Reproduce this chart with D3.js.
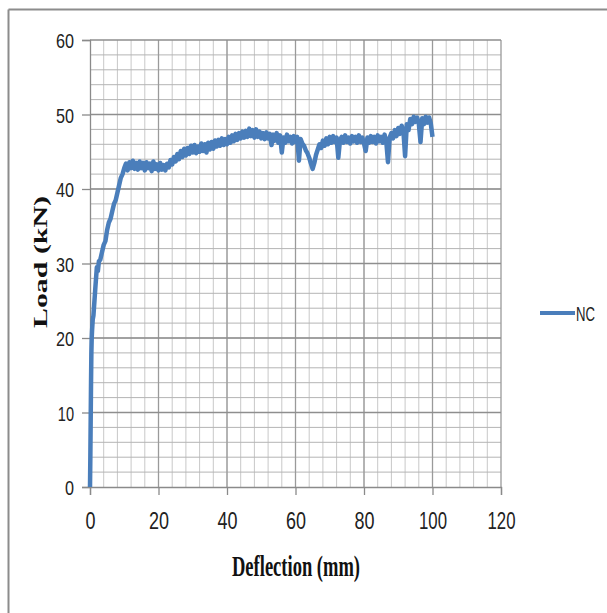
<!doctype html>
<html lang="en">
<head>
  <meta charset="utf-8">
  <script src="https://d3js.org/d3.v7.min.js"></script>
  <style>
    body { margin: 0; background: #fff; }
  </style>
</head>
<body>
  <script>
    var width = 607,
        height = 613;

    // NC beam: load vs deflection
    var deflection = [0, 0.1, 0.2, 0.3, 0.4, 0.5, 0.6, 0.8, 1.0, 1.3, 1.6, 2.0, 2.3, 2.6, 3.0, 3.5,
      4.0, 4.5, 5.0, 5.5, 6.0, 6.5, 7.0, 7.5, 8.0, 8.5, 9.0, 9.5,
      10, 10.5, 11, 11.5, 12, 12.5, 13, 13.5, 14, 14.5, 15,
      15.5, 16, 16.5, 17, 17.5, 18, 18.5, 19, 19.5, 20,
      20.5, 21, 21.5, 22, 22.5, 23, 23.5, 24, 24.5, 25,
      25.5, 26, 26.5, 27, 27.5, 28, 28.5, 29, 29.5, 30,
      30.5, 31, 31.5, 32, 32.5, 33, 33.5, 34, 34.5, 35,
      35.5, 36, 36.5, 37, 37.5, 38, 38.5, 39, 39.5, 40,
      40.5, 41, 41.5, 42, 42.5, 43, 43.5, 44, 44.5, 45,
      45.5, 46, 46.5, 47, 47.5, 48, 48.5, 49, 49.5, 50,
      50.5, 51, 51.5, 52, 52.5, 53, 53.5, 54, 54.5, 55,
      55.5, 56, 56.5, 57, 57.5, 58, 58.5, 59, 59.5, 60,
      60.5, 61, 61.5, 62, 62.5, 63, 63.5, 64, 64.5, 65,
      65.5, 66, 66.5, 67, 67.5, 68, 68.5, 69, 69.5, 70,
      70.5, 71, 71.5, 72, 72.5, 73, 73.5, 74, 74.5, 75,
      75.5, 76, 76.5, 77, 77.5, 78, 78.5, 79, 79.5, 80,
      80.5, 81, 81.5, 82, 82.5, 83, 83.5, 84, 84.5, 85,
      85.5, 86, 86.5, 87, 87.5, 88, 88.5, 89, 89.5, 90,
      90.5, 91, 91.5, 92, 92.5, 93, 93.5, 94, 94.5, 95,
      95.5, 96, 96.5, 97, 97.5, 98, 98.5, 99, 99.5, 100];

    var load = [0, 4, 9, 14, 18, 20, 21, 22.5, 23, 25, 27, 29.5, 29, 30.3, 30.5, 31.5,
      32.5, 33, 34.5, 35.5, 36, 37, 38, 38.5, 39.5, 40.5, 41.5, 42,
      42.8, 43.4, 42.5, 43.6, 42.8, 43.8, 42.7, 43.5, 42.6, 43.7, 42.8,
      43.5, 42.5, 43.6, 42.8, 43.4, 42.4, 43.7, 42.7, 43.3, 42.5,
      43.5, 42.6, 43.2, 42.5, 43.4, 42.9, 43.9, 43.3, 44.3, 43.7,
      44.7, 44.0, 45.1, 44.3, 45.4, 44.5, 45.5, 44.7, 45.8, 44.9,
      45.9, 44.8, 45.7, 45.0, 46.1, 45.1, 46.0, 44.9, 46.2, 45.3,
      46.3, 45.4, 46.5, 45.7, 46.6, 45.8, 46.8, 45.9, 46.7, 46.0,
      47.0, 46.2, 47.2, 46.4, 47.4, 46.6, 47.5, 46.8, 47.7, 46.9,
      47.8, 47.0, 48.1, 47.1, 47.9, 46.9, 48.0, 47.0, 47.7, 46.8,
      47.5, 46.7, 47.6, 46.8, 47.4, 45.9, 47.3, 46.5, 47.5, 46.2,
      47.2, 44.9, 46.9, 46.2, 47.3, 46.4, 47.0, 46.1, 47.1, 46.3,
      47.0, 43.8, 46.7, 46.1, 45.8, 45.2, 44.8, 44.2, 43.4, 42.7,
      43.5, 44.6, 45.3, 46.0, 45.5, 46.5, 45.8, 46.8, 46.0, 47.0,
      46.2, 47.1, 46.3, 46.9, 44.2, 46.6, 47.0, 46.2, 47.2, 46.3,
      46.9, 46.1, 47.1, 46.4, 47.0, 46.2, 47.2, 46.3, 46.9, 46.1,
      45.1, 46.9, 46.2, 47.1, 46.3, 47.0, 46.1, 47.2, 46.4, 47.0,
      46.2, 47.3, 46.4, 43.6, 46.9, 47.5, 46.8, 47.9, 47.1, 48.2,
      47.4, 48.5, 47.8, 44.4, 48.7, 47.9, 49.4, 48.7, 49.7, 49.0,
      49.6, 48.8, 46.3, 49.5, 48.7, 49.7, 48.9, 49.6, 48.8, 47.0];

    var xTicks = [0, 20, 40, 60, 80, 100, 120];
    var yTicks = [0, 10, 20, 30, 40, 50, 60];
    var seriesName = "NC";

    var margin = {top: 40, left: 90},
        plotW = 411,
        plotH = 447;

    var x = d3.scaleLinear().domain([0, 120]).range([0, plotW]);
    var y = d3.scaleLinear().domain([0, 60]).range([plotH, 0]);

    var narrowFont = "'Liberation Sans', Arial, sans-serif";

    var svg = d3.select("body").append("svg")
        .attr("width", width)
        .attr("height", height);

    // outer frame (only left and top edges show)
    svg.append("line").attr("x1", 8.5).attr("y1", 9.5).attr("x2", 607).attr("y2", 9.5)
        .style("stroke", "#8c8c8c").style("stroke-width", 2);
    svg.append("line").attr("x1", 8.5).attr("y1", 9.5).attr("x2", 8.5).attr("y2", 613)
        .style("stroke", "#8c8c8c").style("stroke-width", 2);

    var g = svg.append("g")
        .attr("transform", "translate(" + margin.left + "," + margin.top + ")");

    // minor grid
    g.append("g").selectAll("line")
        .data(d3.range(4, 120, 4))
      .enter().append("line")
        .attr("x1", function(d) { return x(d); })
        .attr("x2", function(d) { return x(d); })
        .attr("y1", 0).attr("y2", plotH)
        .style("stroke", "#c8c8c8").style("stroke-width", 1);

    g.append("g").selectAll("line")
        .data(d3.range(2, 60, 2))
      .enter().append("line")
        .attr("y1", function(d) { return y(d); })
        .attr("y2", function(d) { return y(d); })
        .attr("x1", 0).attr("x2", plotW)
        .style("stroke", "#b4b4b4").style("stroke-width", 1);

    // major grid
    g.append("g").selectAll("line")
        .data(xTicks.slice(1))
      .enter().append("line")
        .attr("x1", function(d) { return x(d); })
        .attr("x2", function(d) { return x(d); })
        .attr("y1", 0).attr("y2", plotH)
        .style("stroke", "#9a9a9a").style("stroke-width", 1.3);

    g.append("g").selectAll("line")
        .data(yTicks.slice(1))
      .enter().append("line")
        .attr("y1", function(d) { return y(d); })
        .attr("y2", function(d) { return y(d); })
        .attr("x1", 0).attr("x2", plotW)
        .style("stroke", "#8e8e8e").style("stroke-width", 1.3);

    // axes
    var xAxis = g.append("g")
        .attr("transform", "translate(0," + plotH + ")")
        .call(d3.axisBottom(x).tickValues(xTicks).tickSize(8).tickPadding(22));
    var yAxis = g.append("g")
        .call(d3.axisLeft(y).tickValues(yTicks).tickSize(8).tickPadding(8));

    // squeeze the digits so they look like the narrow original font
    function digitWidth(s, w) {
      return s.split("").reduce(function(a, c) { return a + (c === "1" ? w * 0.8 : w); }, 0);
    }

    [xAxis, yAxis].forEach(function(a) {
      a.select(".domain").style("stroke", "#8a8a8a").style("stroke-width", 1.3);
      a.selectAll(".tick line").style("stroke", "#8a8a8a").style("stroke-width", 1.3);
      a.selectAll("text")
          .style("font-family", narrowFont)
          .style("fill", "#222");
    });
    xAxis.selectAll("text")
        .style("font-size", "23px")
        .attr("dy", "0.5em")
        .attr("lengthAdjust", "spacingAndGlyphs")
        .attr("textLength", function(d) { return digitWidth(String(d), 10); });
    yAxis.selectAll("text")
        .style("font-size", "21px")
        .attr("dy", "0.36em")
        .attr("lengthAdjust", "spacingAndGlyphs")
        .attr("textLength", function(d) { return digitWidth(String(d), 9); });

    // series
    var pts = deflection.map(function(d, i) { return [d, load[i]]; });
    var line = d3.line()
        .x(function(d) { return x(d[0]); })
        .y(function(d) { return y(d[1]); });

    g.append("path")
        .datum(pts)
        .attr("d", line)
        .style("fill", "none")
        .style("stroke", "#4a7ebb")
        .style("stroke-width", 4.5)
        .style("stroke-linejoin", "round");

    // axis titles
    svg.append("text")
        .attr("x", 296).attr("y", 576)
        .attr("text-anchor", "middle")
        .attr("textLength", 128)
        .attr("lengthAdjust", "spacingAndGlyphs")
        .style("font-family", "'Liberation Serif', 'Times New Roman', serif")
        .style("font-weight", "bold")
        .style("font-size", "29px")
        .style("fill", "#111")
        .text("Deflection (mm)");

    svg.append("text")
        .attr("transform", "translate(47,262) rotate(-90)")
        .attr("text-anchor", "middle")
        .attr("textLength", 132)
        .attr("lengthAdjust", "spacingAndGlyphs")
        .style("font-family", "'Liberation Serif', 'Times New Roman', serif")
        .style("font-weight", "bold")
        .style("font-size", "19px")
        .style("fill", "#111")
        .text("Load (kN)");

    // legend
    svg.append("line")
        .attr("x1", 540).attr("x2", 575)
        .attr("y1", 313).attr("y2", 313)
        .style("stroke", "#4a7ebb").style("stroke-width", 4);
    svg.append("text")
        .attr("x", 576).attr("y", 321)
        .attr("textLength", 19)
        .attr("lengthAdjust", "spacingAndGlyphs")
        .style("font-family", narrowFont)
        .style("font-size", "21px")
        .style("fill", "#222")
        .text(seriesName);
  </script>
</body>
</html>
